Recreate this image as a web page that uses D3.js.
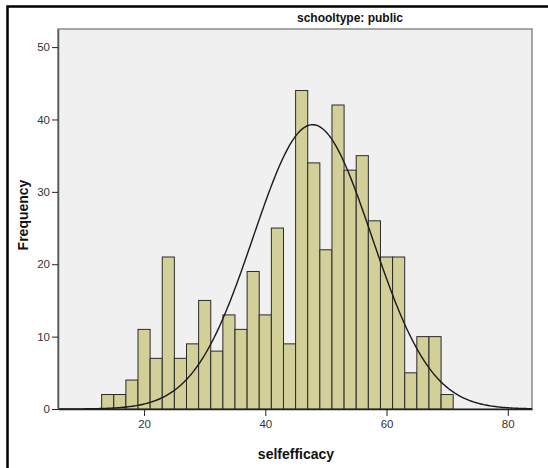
<!DOCTYPE html>
<html>
<head>
<meta charset="utf-8">
<script src="https://cdn.jsdelivr.net/npm/d3@7"></script>
<style>
  html, body { margin: 0; background: #fff; overflow: hidden; }
  svg { display: block; }
  svg text { font-family: "Liberation Sans", Arial, sans-serif; }
</style>
</head>
<body>
<svg id="chart" width="548" height="468"></svg>
<script>
// histogram bins (width 2), starting at 13
const binStarts = [13,15,17,19,21,23,25,27,29,31,33,35,37,39,41,43,45,47,49,51,53,55,57,59,61,63,65,67,69];
const counts    = [2,2,4,11,7,21,7,9,15,8,13,11,19,13,25,9,44,34,22,42,33,35,26,21,21,5,10,10,2];
const binWidth = 2;
const xTicks = [20, 40, 60, 80];
const yTicks = [0, 10, 20, 30, 40, 50];
// normal curve parameters
const curveMean = 47.8;
const curveSd = 9.77;

const svg = d3.select("#chart");
const plotL = 58, plotR = 532, plotT = 29, plotB = 409;

const x = d3.scaleLinear().domain([5.8, 84]).range([plotL, plotR]);
const y = d3.scaleLinear().domain([0, 52.5]).range([plotB, plotT]);

// outer frame: only its top and left edges fall inside the picture
svg.append("path")
    .attr("d", "M7.5,468V6.5H548")
    .attr("fill", "none").attr("stroke", "#000").attr("stroke-width", 2.5);

// plot background
svg.append("rect")
    .attr("x", plotL).attr("y", plotT)
    .attr("width", plotR - plotL).attr("height", plotB - plotT)
    .attr("fill", "#f0f0f0")
    .attr("stroke", "#8a8a8a").attr("stroke-width", 1.5);

svg.append("text")
    .attr("x", 350).attr("y", 21.5)
    .attr("text-anchor", "middle")
    .attr("font-size", "12px").attr("font-weight", "bold")
    .attr("fill", "#111")
    .text("schooltype: public");

// bars
svg.selectAll(".bar")
    .data(binStarts.map((s, i) => ({s, c: counts[i]})))
    .join("rect")
    .attr("class", "bar")
    .attr("x", d => x(d.s))
    .attr("y", d => y(d.c))
    .attr("width", d => x(d.s + binWidth) - x(d.s))
    .attr("height", d => y(0) - y(d.c))
    .attr("fill", "#d3cf98")
    .attr("stroke", "#2a2a2a")
    .attr("stroke-width", 1);

// fitted normal curve
const n = d3.sum(counts);
const pts = d3.range(0, 401).map(i => {
  const v = 5.8 + (84 - 5.8) * i / 400;
  const z = (v - curveMean) / curveSd;
  return [v, n * binWidth / (curveSd * Math.sqrt(2 * Math.PI)) * Math.exp(-0.5 * z * z)];
});
svg.append("path")
    .datum(pts)
    .attr("d", d3.line().x(d => x(d[0])).y(d => y(d[1])))
    .attr("fill", "none")
    .attr("stroke", "#1a1a1a")
    .attr("stroke-width", 1.4);

// axes
const xAxis = svg.append("g")
    .attr("transform", `translate(0,${plotB})`)
    .call(d3.axisBottom(x).tickValues(xTicks).tickSize(7).tickSizeOuter(0).tickPadding(4));
const yAxis = svg.append("g")
    .attr("transform", `translate(${plotL},0)`)
    .call(d3.axisLeft(y).tickValues(yTicks).tickSize(6).tickSizeOuter(0).tickPadding(2));

xAxis.select(".domain").attr("stroke", "#222").attr("stroke-width", 1.5);
yAxis.select(".domain").attr("stroke", "#555").attr("stroke-width", 1.5);
[xAxis, yAxis].forEach(g => {
  g.selectAll(".tick line").attr("stroke", "#222");
  g.selectAll(".tick text")
      .attr("font-size", "11.5px")
      .attr("fill", "#333")
      .attr("font-family", "Liberation Sans, Arial, sans-serif");
});

svg.append("text")
    .attr("x", 296).attr("y", 459)
    .attr("text-anchor", "middle")
    .attr("font-size", "14px").attr("font-weight", "bold")
    .attr("fill", "#111")
    .text("selfefficacy");

svg.append("text")
    .attr("transform", "translate(28,215) rotate(-90)")
    .attr("text-anchor", "middle")
    .attr("font-size", "14px").attr("font-weight", "bold")
    .attr("fill", "#111")
    .text("Frequency");
</script>
</body>
</html>
